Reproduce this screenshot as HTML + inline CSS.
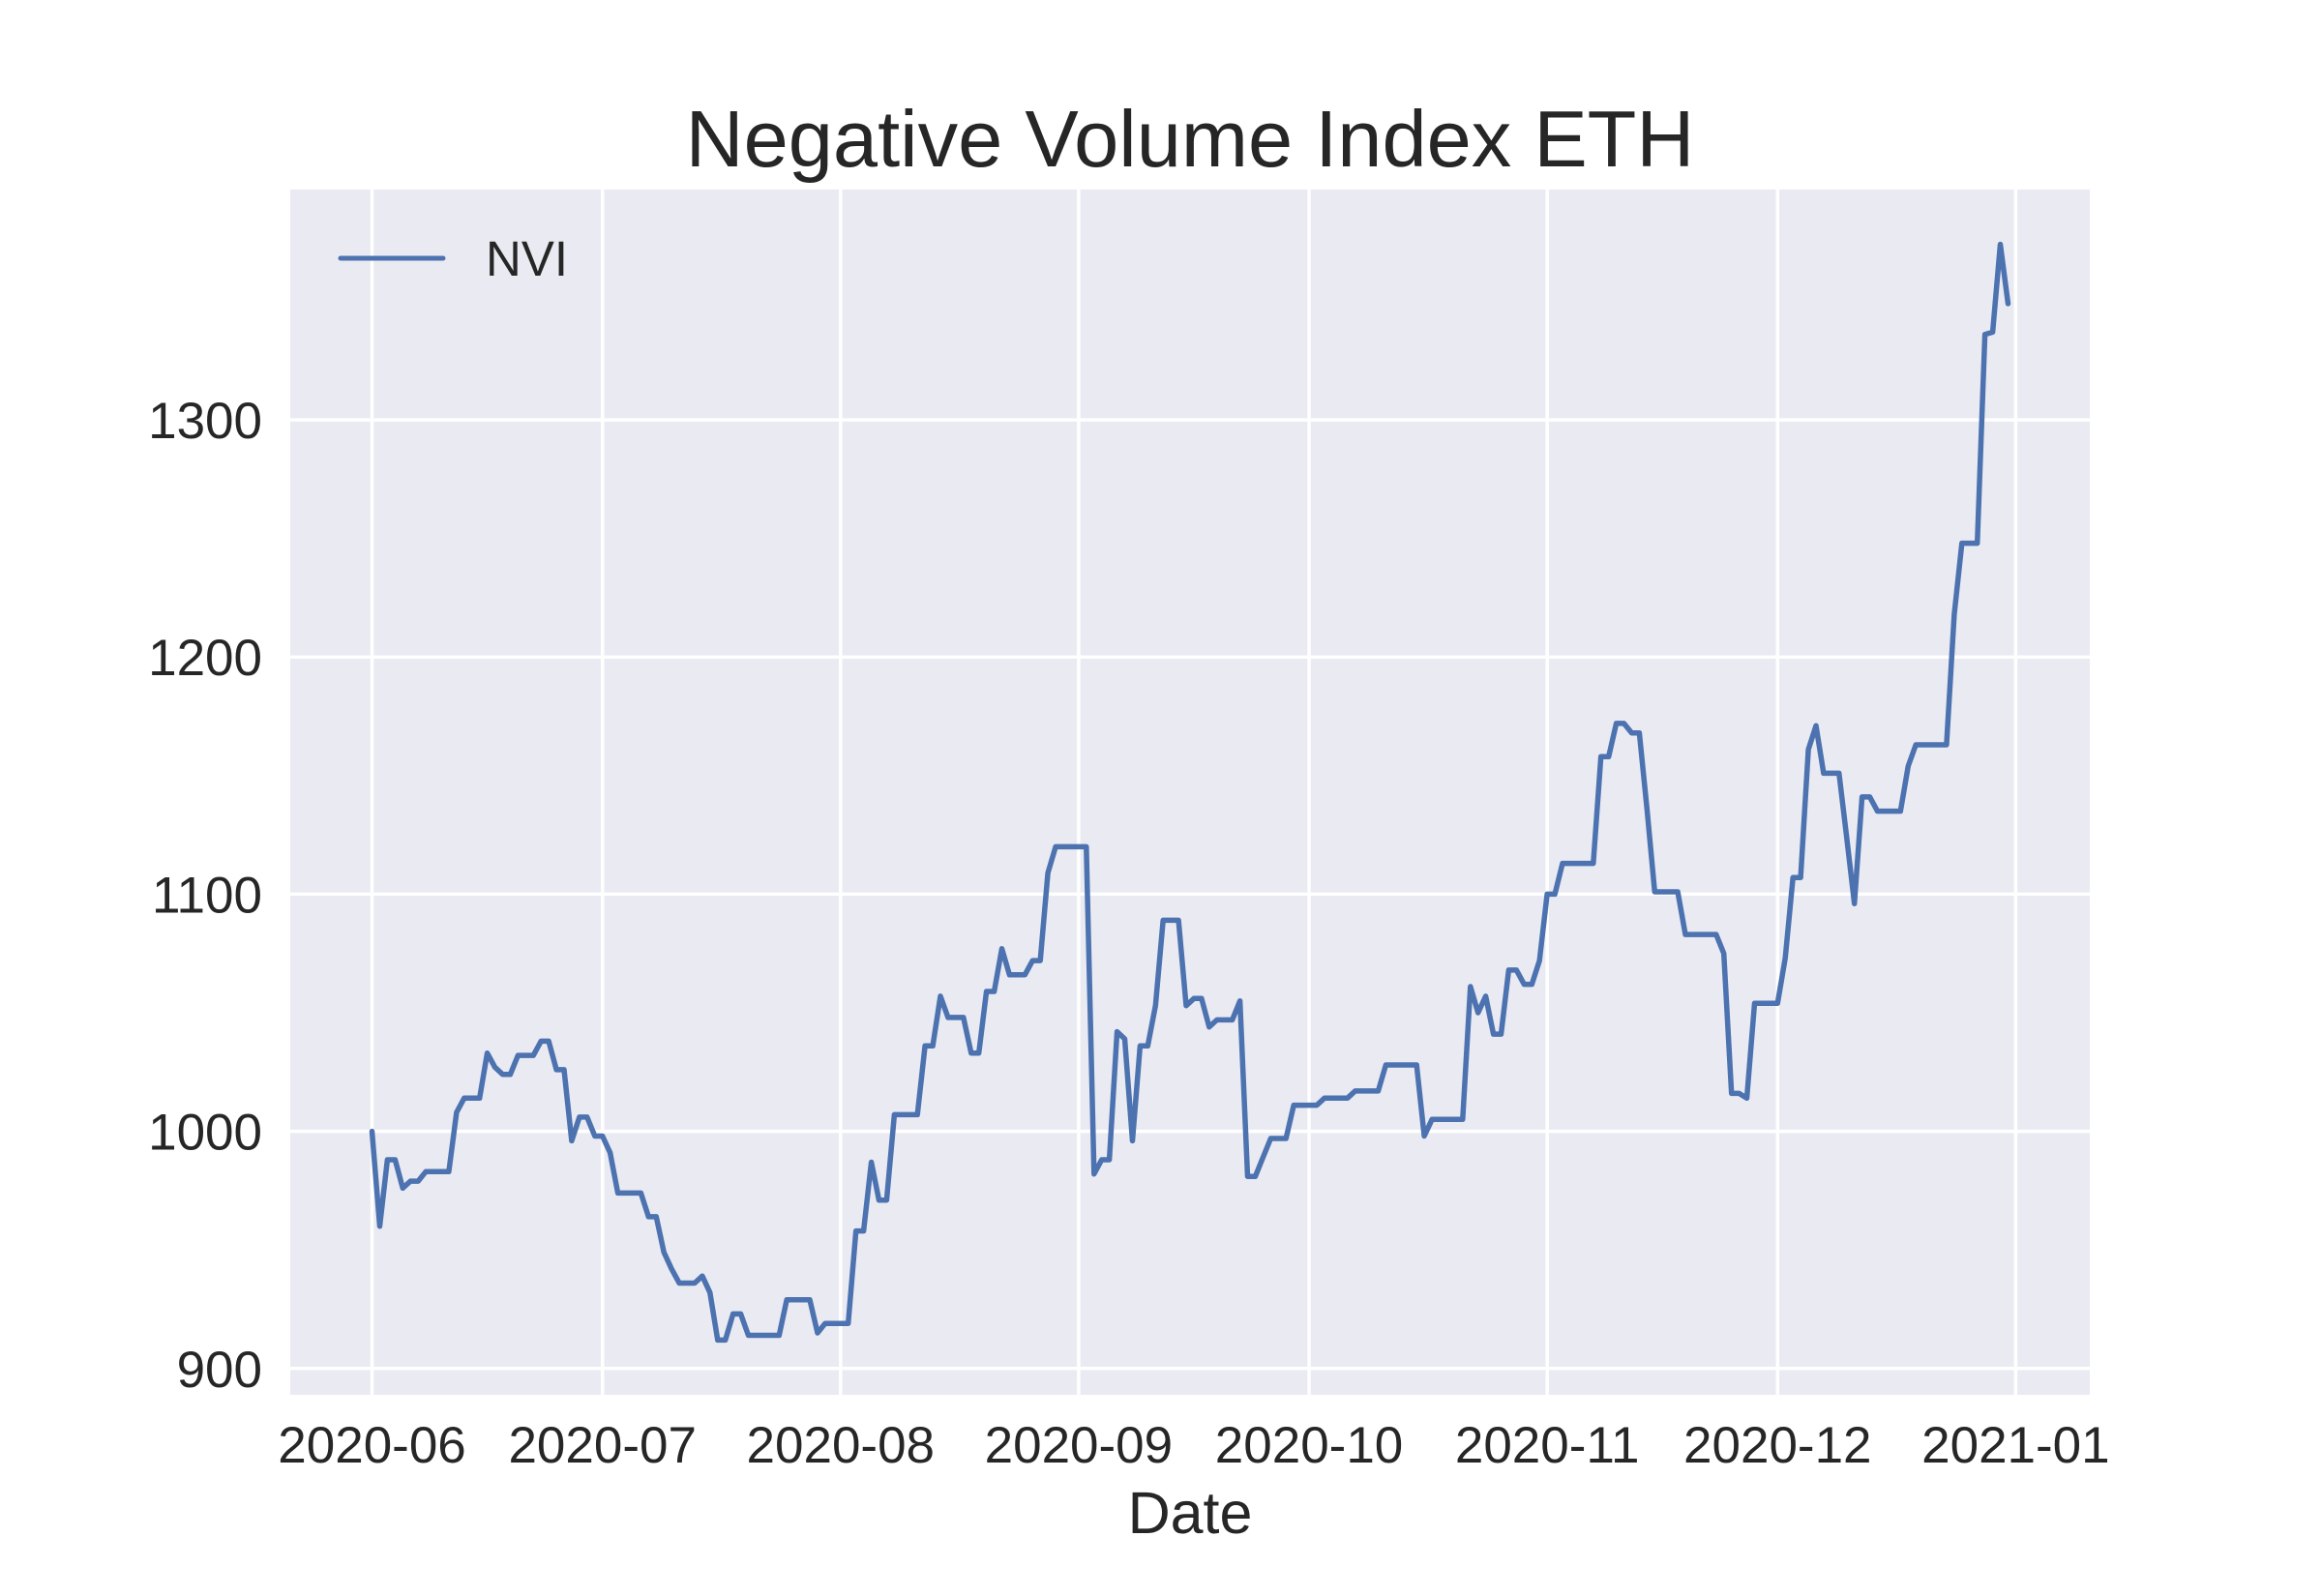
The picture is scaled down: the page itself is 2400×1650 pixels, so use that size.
<!DOCTYPE html>
<html><head><meta charset="utf-8"><style>
html,body{margin:0;padding:0;background:#fff;}
svg{display:block;font-family:"Liberation Sans",Arial,sans-serif;}
</style></head><body>
<svg id="chart" width="2400" height="1650" viewBox="0 0 2400 1650">
<rect x="0" y="0" width="2400" height="1650" fill="#fff"/>
<rect id="plot-bg" x="300" y="196" width="1860" height="1246" fill="#EAEAF2"/>
<g id="grid"></g>
<g id="series"></g>
<g id="xticks"></g>
<g id="yticks"></g>
<text x="1230" y="172" font-size="83" fill="#262626" text-anchor="middle">Negative Volume Index ETH</text>
<text x="1230" y="1585" font-size="61" fill="#262626" text-anchor="middle">Date</text>
<g>
<line x1="352" y1="267" x2="458" y2="267" stroke="#4C72B0" stroke-width="5" stroke-linecap="round"/>
<text x="502" y="285" font-size="51" fill="#262626">NVI</text>
</g>
</svg>
<script>
const startDate = "2020-06-01";
const nviValues = [
1000,960,988,988,976,979,979,983,983,983,983,1008,1014,1014,1014,1033,1027,1024,1024,1032,1032,1032,1038,1038,1026,1026,996,1006,1006,998,
998,991,974,974,974,974,964,964,949,942,936,936,936,939,932,912,912,923,923,914,914,914,914,914,929,929,929,929,915,919,919,919,
919,958,958,987,971,971,1007,1007,1007,1007,1036,1036,1057,1048,1048,1048,1033,1033,1059,1059,1077,1066,1066,1066,1072,1072,1109,1120,1120,1120,1120,
1120,982,988,988,1042,1039,996,1036,1036,1053,1089,1089,1089,1053,1056,1056,1044,1047,1047,1047,1055,981,981,989,997,997,997,1011,1011,1011,
1011,1014,1014,1014,1014,1017,1017,1017,1017,1028,1028,1028,1028,1028,998,1005,1005,1005,1005,1005,1061,1050,1057,1041,1041,1068,1068,1062,1062,1072,1100,
1100,1113,1113,1113,1113,1113,1158,1158,1172,1172,1168,1168,1136,1101,1101,1101,1101,1083,1083,1083,1083,1083,1075,1016,1016,1014,1054,1054,1054,1054,
1073,1107,1107,1161,1171,1151,1151,1151,1124,1096,1141,1141,1135,1135,1135,1135,1154,1163,1163,1163,1163,1163,1218,1248,1248,1248,1336,1337,1374,1349
];
const xTickLabels = ["2020-06","2020-07","2020-08","2020-09","2020-10","2020-11","2020-12","2021-01"];
const yTickValues = [900,1000,1100,1200,1300];

const NS="http://www.w3.org/2000/svg";
const L=300,R=2160,T=196,B=1442;
const dayMs=86400000;
const t0=Date.parse(startDate+"T00:00:00Z");
const n=nviValues.length;
const xMin=-0.05*(n-1), xMax=(n-1)*1.05;
const vMin=Math.min(...nviValues), vMax=Math.max(...nviValues);
const yMin=vMin-0.05*(vMax-vMin), yMax=vMax+0.05*(vMax-vMin);
function xs(d){return L+(d-xMin)/(xMax-xMin)*(R-L);}
function ys(v){return B-(v-yMin)/(yMax-yMin)*(B-T);}
function mk(tag,attrs,parent){const e=document.createElementNS(NS,tag);for(const k in attrs)e.setAttribute(k,attrs[k]);parent.appendChild(e);return e;}
const grid=document.getElementById('grid'),xt=document.getElementById('xticks'),yt=document.getElementById('yticks'),ser=document.getElementById('series');
xTickLabels.forEach(lbl=>{
  const d=(Date.parse(lbl+"-01T00:00:00Z")-t0)/dayMs;
  const x=xs(d);
  const g=mk('line',{x1:x,x2:x,y1:T,y2:B,stroke:'#fff','stroke-width':3.5},grid);
  
  
  const t=mk('text',{x:x,y:1512,'font-size':53,fill:'#262626','text-anchor':'middle'},xt);
  t.textContent=lbl;
  
  
});
yTickValues.forEach(v=>{
  const y=ys(v);
  const g=mk('line',{x1:L,x2:R,y1:y,y2:y,stroke:'#fff','stroke-width':3.5},grid);
  
  
  const t=mk('text',{x:271,y:y+19,'font-size':53,fill:'#262626','text-anchor':'end'},yt);
  t.textContent=String(v);
  
  
});
const pts=nviValues.map((v,i)=>xs(i).toFixed(1)+','+ys(v).toFixed(1)).join(' ');
const pl=mk('polyline',{points:pts,fill:'none',stroke:'#4C72B0','stroke-width':5.5,'stroke-linejoin':'round','stroke-linecap':'round'},ser);


</script>
</body></html>
